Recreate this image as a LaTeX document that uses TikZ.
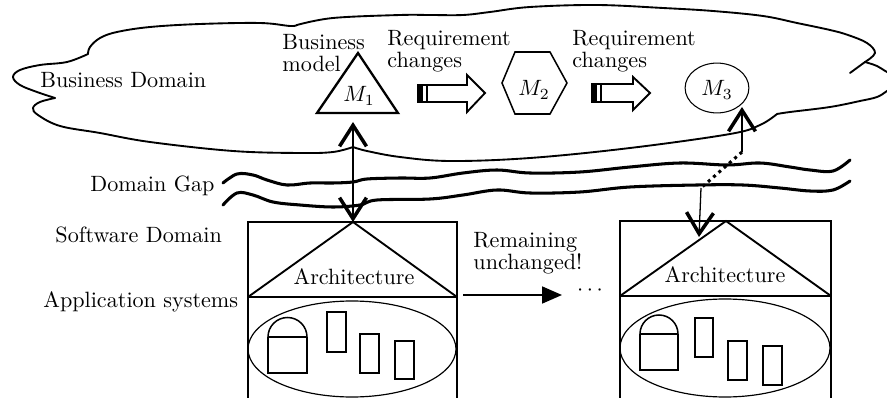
\documentclass[tikz,border=0pt]{standalone}
\usetikzlibrary{arrows.meta,shapes.geometric}
% two left-aligned lines whose first baseline is the node baseline
\newcommand{\lblstack}[2]{\begin{tabular}[t]{@{}l@{}}#1\\#2\end{tabular}}
\renewcommand{\arraystretch}{0.75}
\begin{document}
\begin{tikzpicture}[x=0.03cm, y=-0.03cm,
  txt/.style={inner sep=0pt, scale=1.89, font=\fontsize{10}{12}\selectfont},
  cloudline/.style={line width=1.6pt, line join=round, line cap=round},
  wave/.style={line width=2.6pt, line cap=round, line join=round},
  frame/.style={line width=1.4pt},
  roof/.style={line width=1.6pt, line join=miter},
  part/.style={line width=1.3pt},
  blk/.style={line width=1.6pt, line join=miter},
  link/.style={line width=1.7pt},
  thinlink/.style={line width=1.1pt},
  dotlink/.style={line width=2.6pt, dash pattern=on 2.6pt off 3.4pt},
  barb/.tip={Straight Barb[length=18pt, width=23pt, line width=3pt]},
  solid tip/.tip={Triangle[length=17pt, width=14.5pt]}
]
\useasboundingbox (0,0) rectangle (887,398);
\clip (0,0) rectangle (887,398);

% ---------- business domain cloud ----------
\draw[cloudline] plot[smooth, tension=0.6] coordinates {(88,54) (67,62) (40,65) (20,70) (13,77) (20,85) (37,92) (55,98)};
\draw[cloudline] plot[smooth, tension=0.6] coordinates {(55,98) (40,102) (33,108) (38,115) (60,126) (100,133) (150,142) (233,151) (300,153) (333,152) (353,147)};
\draw[cloudline] plot[smooth, tension=0.6] coordinates {(353,147) (367,151) (400,157) (450,161) (530,158) (630,148) (730,134) (760,125) (777,114)};
\draw[cloudline] plot[smooth, tension=0.6] coordinates {(777,114) (790,112) (830,107) (860,101) (877,97) (887,91) (900,82)};
\draw[cloudline] plot[smooth, tension=0.6] coordinates {(900,78) (887,72) (877,66) (865,62)};
\draw[cloudline] (865,62) -- (850,73);
\draw[cloudline] plot[smooth, tension=0.6] coordinates {(865,62) (875,53) (867,43) (848,35) (830,30) (797,23) (763,16) (713,11) (663,8) (597,5) (530,7) (490,12) (463,15) (430,15) (400,15) (333,18) (297,25)};
\draw[cloudline] plot[smooth, tension=0.6] coordinates {(297,25) (290,26) (260,23) (200,24) (150,27) (117,32) (100,38) (90,47) (88,54)};

% ---------- domain gap ----------
\draw[wave] plot[smooth, tension=0.6] coordinates {(223,183) (237,174) (253,175) (267,180) (287,185) (310,183) (333,183) (353,182) (367,179) (400,178) (430,178) (463,173) (497,170) (530,173) (580,172) (630,167) (680,163) (727,165) (760,163) (790,167) (810,170) (833,171) (850,160)};
\draw[wave] plot[smooth, tension=0.6] coordinates {(223,205) (237,193) (253,195) (273,202) (300,205) (333,207) (360,205) (377,200) (430,199) (463,195) (497,190) (530,193) (580,192) (630,187) (697,185) (743,185) (780,188) (810,191) (833,190) (850,181)};

% ---------- left labels ----------
\node[txt, anchor=base west] (bdom) at (40,88) {Business Domain};
\node[txt, anchor=base west] (gap) at (90,192) {Domain Gap};
\node[txt, anchor=base west] (sdom) at (55,243) {Software Domain};
\node[txt, anchor=base west] (apps) at (43,307) {Application systems};

% ---------- business models ----------
\draw[line width=2pt, line join=miter] (358,53) -- (317,113) -- (398,113) -- cycle;
\node[txt] (m1) at (359,96) {$M_1$};
\node[txt, anchor=base west] (bmodel) at (282,50) {\lblstack{Business}{model}};

\draw[line width=1.3pt] (515,52) -- (550,52) -- (567,83) -- (550,114) -- (515,114) -- (502,83) -- cycle;
\node[txt] (m2) at (534,90) {$M_2$};

\node[txt, draw, ellipse, minimum width=28.8pt, minimum height=22.5pt, line width=0.9pt] (m3) at (717,88) {};
\node[txt] (m3lbl) at (717,90) {$M_3$};

% ---------- requirement-change block arrows ----------
\node[txt, anchor=base west] (req1) at (387,46) {\lblstack{Requirement}{changes}};
\fill (418,85) rectangle (423,102);
\draw[blk] (418,85) -- (467,85) -- (467,75) -- (485,93) -- (467,112) -- (467,102) -- (418,102) -- cycle;
\draw[line width=2.4pt] (427,85) -- (427,102);

\node[txt, anchor=base west] (req2) at (572,46) {\lblstack{Requirement}{changes}};
\fill (592,84) rectangle (597,102);
\draw[blk] (592,84) -- (633,84) -- (633,77) -- (650,93) -- (633,110) -- (633,102) -- (592,102) -- cycle;
\draw[line width=2.4pt] (601,84) -- (601,102);

% ---------- application systems, first ----------
\draw[frame] (248,405) -- (248,222) -- (457,222) -- (457,405);
\draw[roof] (248,297) -- (353,222) -- (457,297);
\draw[frame] (248,297) -- (457,297);
\node[txt, anchor=base] (archL) at (354,284) {Architecture};
\draw[line width=1pt] (352,349) ellipse [x radius=104, y radius=48];
\draw[part] (268,337) arc[start angle=180, end angle=360, radius=19.5] -- (307,373) -- (268,373) -- cycle;
\draw[part] (268,337) -- (307,337);
\draw[part] (327,312) rectangle (346,352);
\draw[part] (360,334) rectangle (379,373);
\draw[part] (395,341) rectangle (414,379);

% ---------- application systems, later ----------
\draw[frame] (620,405) -- (620,221) -- (831,221) -- (831,405);
\draw[roof] (620,296) -- (726,221) -- (831,296);
\draw[frame] (620,296) -- (831,296);
\node[txt, anchor=base] (archR) at (725,283) {Architecture};
\draw[line width=1pt] (725,348) ellipse [x radius=105, y radius=49];
\draw[part] (640,334) arc[start angle=180, end angle=360, radius=19] -- (678,370) -- (640,370) -- cycle;
\draw[part] (640,334) -- (678,334);
\draw[part] (695,318) rectangle (713,357);
\draw[part] (728,341) rectangle (747,380);
\draw[part] (763,346) rectangle (782,385);

% ---------- connectors ----------
\coordinate (m1foot) at (353,122);
\coordinate (apexL) at (353,222);
\draw[link, barb-barb] (m1foot) -- (apexL);

\coordinate (m3foot) at (742,107);
\coordinate (gapA) at (742,152);
\coordinate (gapB) at (701,188);
\coordinate (roofR) at (699,237);
\draw[link, barb-] (m3foot) -- (gapA);
\draw[dotlink] (gapA) -- (gapB);
\draw[thinlink, -barb] (gapB) -- (roofR);

\coordinate (sideL) at (463,295);
\coordinate (later) at (562,295);
\draw[line width=1.3pt, -solid tip] (sideL) -- (later);
\node[txt, anchor=base west] (keep) at (473,248) {\lblstack{Remaining}{unchanged!}};
\node[txt] (dots) at (590,291) {$\cdots$};
\end{tikzpicture}
\end{document}
